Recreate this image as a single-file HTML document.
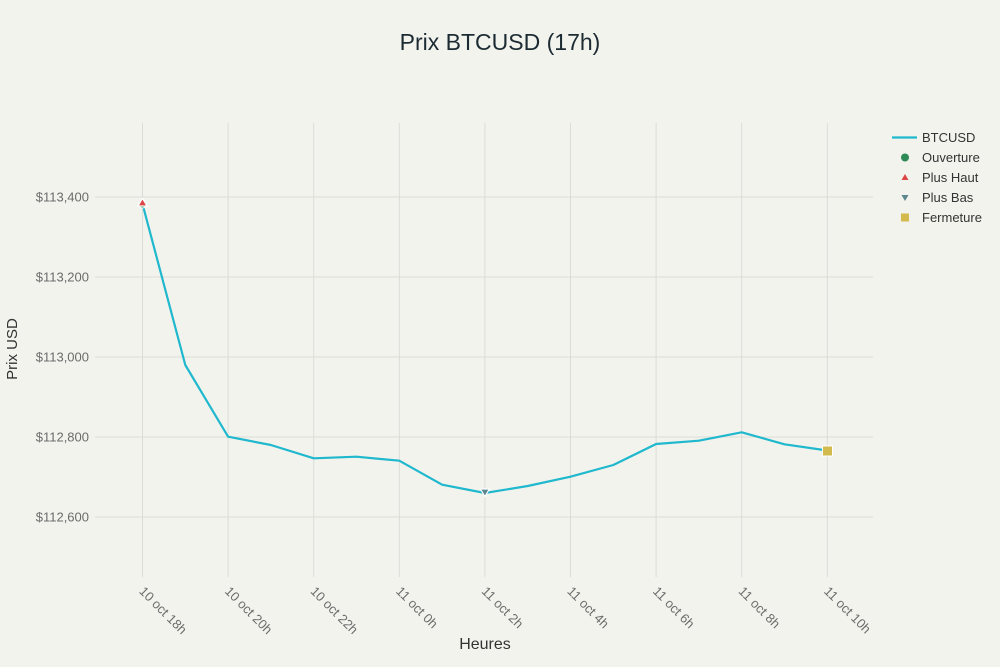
<!DOCTYPE html>
<html>
<head>
<meta charset="utf-8">
<style>
html,body{margin:0;padding:0;background:#F3F3EE;}
svg{display:block;}
text{font-family:"Liberation Sans",sans-serif;}
</style>
</head>
<body>
<svg width="1000" height="667" viewBox="0 0 1000 667" xmlns="http://www.w3.org/2000/svg">
<rect x="0" y="0" width="1000" height="667" fill="#F3F3EE"/>
<!-- title -->
<text x="500" y="50" text-anchor="middle" font-size="23" fill="#1c2b33">Prix BTCUSD (17h)</text>
<!-- gridlines -->
<g stroke="#dcdcd7" stroke-width="1">
<line x1="95" x2="873" y1="197" y2="197"/>
<line x1="95" x2="873" y1="277" y2="277"/>
<line x1="95" x2="873" y1="357" y2="357"/>
<line x1="95" x2="873" y1="437" y2="437"/>
<line x1="95" x2="873" y1="517" y2="517"/>
<line x1="142.5" x2="142.5" y1="123" y2="577"/>
<line x1="228.1" x2="228.1" y1="123" y2="577"/>
<line x1="313.7" x2="313.7" y1="123" y2="577"/>
<line x1="399.3" x2="399.3" y1="123" y2="577"/>
<line x1="484.9" x2="484.9" y1="123" y2="577"/>
<line x1="570.5" x2="570.5" y1="123" y2="577"/>
<line x1="656.1" x2="656.1" y1="123" y2="577"/>
<line x1="741.7" x2="741.7" y1="123" y2="577"/>
<line x1="827.3" x2="827.3" y1="123" y2="577"/>
</g>
<!-- y tick labels -->
<g font-size="13" fill="#6b6b6b" text-anchor="end">
<text x="89" y="201.5">$113,400</text>
<text x="89" y="281.5">$113,200</text>
<text x="89" y="361.5">$113,000</text>
<text x="89" y="441.5">$112,800</text>
<text x="89" y="521.5">$112,600</text>
</g>
<!-- y title -->
<text x="17" y="349" font-size="15" fill="#333" text-anchor="middle" transform="rotate(-90 17 349)">Prix USD</text>
<!-- x tick labels -->
<g font-size="13" fill="#6b6b6b">
<text x="138.5" y="592" transform="rotate(45 138.5 592)">10 oct 18h</text>
<text x="224.1" y="592" transform="rotate(45 224.1 592)">10 oct 20h</text>
<text x="309.7" y="592" transform="rotate(45 309.7 592)">10 oct 22h</text>
<text x="395.3" y="592" transform="rotate(45 395.3 592)">11 oct 0h</text>
<text x="480.9" y="592" transform="rotate(45 480.9 592)">11 oct 2h</text>
<text x="566.5" y="592" transform="rotate(45 566.5 592)">11 oct 4h</text>
<text x="652.1" y="592" transform="rotate(45 652.1 592)">11 oct 6h</text>
<text x="737.7" y="592" transform="rotate(45 737.7 592)">11 oct 8h</text>
<text x="823.3" y="592" transform="rotate(45 823.3 592)">11 oct 10h</text>
</g>
<!-- x title -->
<text x="485" y="649" font-size="16" fill="#333" text-anchor="middle">Heures</text>
<!-- series -->
<polyline fill="none" stroke="#1FB8CD" stroke-width="2.2" stroke-linejoin="round"
points="142.5,204 185.3,365 228.1,436.7 270.9,445 313.7,458.3 356.5,456.7 399.3,460.7 442.1,484.7 484.9,493 527.7,486 570.5,476.7 613.3,465 656.1,444 698.9,440.7 741.7,432.3 784.5,444.3 827.3,450.5"/>
<!-- markers -->
<circle cx="142.5" cy="204" r="4" fill="#2E8B57" stroke="#fff" stroke-width="1"/>
<polygon points="142.5,198.5 147,206 138,206" fill="#DB4545" stroke="#fff" stroke-width="1.2"/>
<polygon points="480.4,489 489.4,489 484.9,496.5" fill="#5D878F" stroke="#fff" stroke-width="1.2"/>
<rect x="822.5" y="446" width="10" height="10" fill="#D2BA4C" stroke="#fff" stroke-width="1"/>
<!-- legend -->
<line x1="892" x2="917" y1="137.5" y2="137.5" stroke="#1FB8CD" stroke-width="2.2"/>
<circle cx="905" cy="157.5" r="4" fill="#2E8B57"/>
<polygon points="905,174 908.5,180 901.5,180" fill="#DB4545"/>
<polygon points="901.5,195 908.5,195 905,201" fill="#5D878F"/>
<rect x="901" y="213.5" width="8" height="8" fill="#D2BA4C"/>
<g font-size="13" fill="#333">
<text x="922" y="142">BTCUSD</text>
<text x="922" y="162">Ouverture</text>
<text x="922" y="182">Plus Haut</text>
<text x="922" y="202">Plus Bas</text>
<text x="922" y="222">Fermeture</text>
</g>
</svg>
</body>
</html>
